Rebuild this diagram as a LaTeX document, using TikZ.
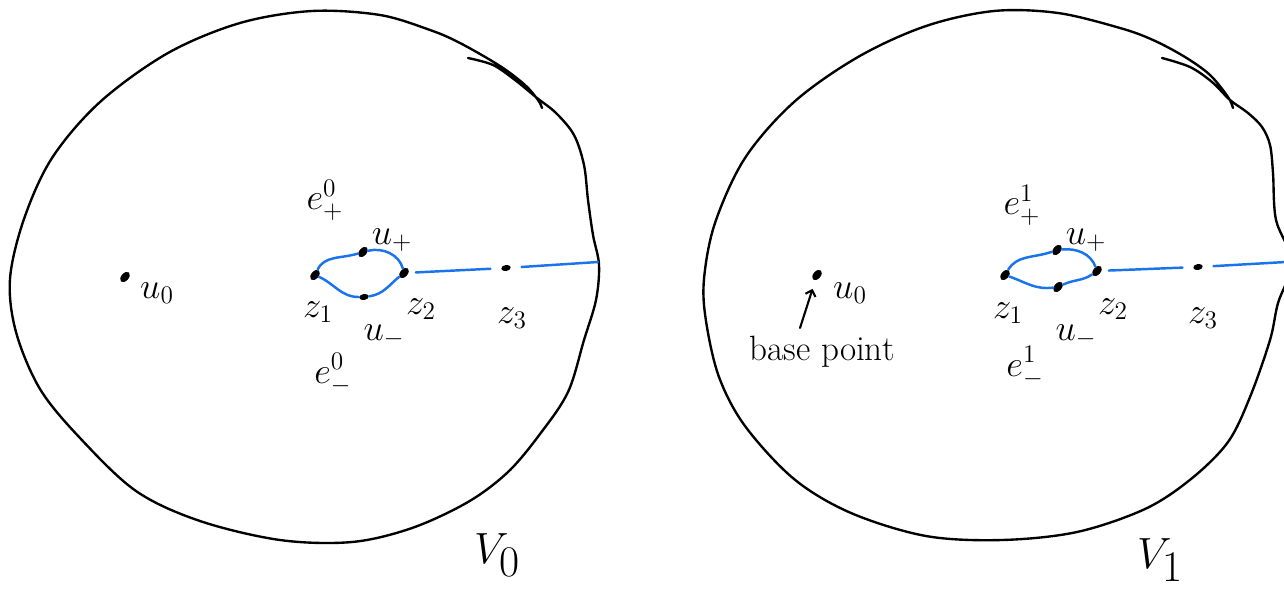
\documentclass[tikz,border=0pt]{standalone}
\usetikzlibrary{shapes.geometric,arrows.meta}
\definecolor{bluepen}{RGB}{25,115,235}
\begin{document}
\begin{tikzpicture}[x=0.02cm,y=-0.02cm,
  outline/.style={line width=1.35pt, line cap=round, line join=round},
  bl/.style={draw=bluepen, line width=1.4pt, line cap=round},
  dot/.style={ellipse, fill=black, inner sep=0, minimum width=0.24cm, minimum height=0.15cm, rotate=50},
  smalldot/.style={ellipse, fill=black, inner sep=0, minimum width=0.19cm, minimum height=0.12cm, rotate=10},
  lbl/.style={font=\fontsize{20}{24}\selectfont, inner sep=0},
  big/.style={font=\fontsize{42}{46}\selectfont, inner sep=0}]
\useasboundingbox (0,0) rectangle (1284,592);
\begin{scope}
\clip (0,0) rectangle (1284,592);
% ---------- left disc V0
\draw[outline] plot[smooth, tension=0.55] coordinates {
 (468,58) (493,65) (515,80) (537,98) (556,113) (574,135) (584,165) (588,200)
 (593,235) (599,265) (596,300) (584,340) (568,392) (540,434) (508,472) (468,502)
 (412,528) (352,542) (280,540) (200,521) (136,491) (80,438) (40,389) (16,332)
 (10,279) (24,219) (52,158) (100,102) (168,53) (240,23) (312,11) (380,15)
 (430,30) (460,43) (500,66) (525,85) (538,100) (542,108)};
% ---------- right disc V1
\draw[outline] plot[smooth, tension=0.55] coordinates {
 (1162,58) (1190,67) (1212,82) (1230,100) (1248,113) (1262,127) (1270,145) (1273,173)
 (1276,220) (1292,262) (1278,303) (1270,340) (1250,397) (1228,442) (1191,479) (1145,509)
 (1077,532) (1002,540) (926,536) (851,513) (794,479) (745,426) (719,377) (706,321)
 (704,279) (715,223) (745,158) (794,102) (858,57) (926,26) (994,11) (1058,13)
 (1120,28) (1153,40) (1185,57) (1210,75) (1228,97) (1233,108)};
\end{scope}

% ---------- left contents
\node[dot] (lu0) at (125,277) {};
\node[lbl] (lu0t) at (157,293) {$u_0$};
\node[lbl] (lep) at (325,200) {$e^0_+$};
\node[dot] (lz1) at (315,275) {};
\node[dot] (lup) at (363,252) {};
\node[dot] (lz2) at (404,273) {};
\node[smalldot] (lum) at (364,297) {};
\node[smalldot] (lz3) at (506,268) {};
\coordinate (ledge) at (598,262);
\node[lbl] (lz1t) at (318,312) {$z_1$};
\node[lbl] (lupt) at (392,240) {$u_+$};
\node[lbl] (lz2t) at (421,309) {$z_2$};
\node[lbl] (lumt) at (384,336) {$u_-$};
\node[lbl] (lz3t) at (512,318) {$z_3$};
\node[lbl] (lem) at (333,374) {$e^0_-$};
\node[big] (V0) at (497,555) {$V_0$};

\draw[bl] (lz1) to[out=55,in=185] (lup);
\draw[bl] (lup) to[out=0,in=95] (lz2);
\draw[bl] (lz1) to[out=-35,in=178] (lum);
\draw[bl] (lum) to[out=5,in=-155] (lz2);
\draw[bl, shorten <=4pt, shorten >=6pt] (lz2) -- (lz3);
\draw[bl, shorten <=6pt] (lz3) -- (ledge);

% ---------- right contents
\node[dot] (ru0) at (817,275) {};
\node[lbl] (ru0t) at (850,293) {$u_0$};
\coordinate (rarrow) at (800,328);
\node[lbl] (bp) at (822,352) {base point};
\draw[line width=1.2pt, line cap=round, -{Straight Barb[length=3pt]}, shorten >=5pt] (rarrow) -- (ru0);
\node[lbl] (rep) at (1022,205) {$e^1_+$};
\node[dot] (rz1) at (1005,275) {};
\node[dot] (rup) at (1057,250) {};
\node[dot] (rum) at (1058,287) {};
\node[dot] (rz2) at (1097,271) {};
\node[smalldot] (rz3) at (1198,267) {};
\coordinate (redge) at (1286,262);
\node[lbl] (rz1t) at (1008,313) {$z_1$};
\node[lbl] (rupt) at (1086,240) {$u_+$};
\node[lbl] (rz2t) at (1113,309) {$z_2$};
\node[lbl] (rumt) at (1076,336) {$u_-$};
\node[lbl] (rz3t) at (1203,318) {$z_3$};
\node[lbl] (rem) at (1025,367) {$e^1_-$};
\node[big] (V1) at (1160,560) {$V_1$};

\draw[bl] (rz1) to[out=50,in=188] (rup);
\draw[bl] (rup) to[out=-8,in=100] (rz2);
\draw[bl] (rz1) to[out=-30,in=175] (rum);
\draw[bl] (rum) to[out=10,in=-160] (rz2);
\draw[bl, shorten <=4pt, shorten >=6pt] (rz2) -- (rz3);
\draw[bl, shorten <=6pt] (rz3) -- (redge);
\end{tikzpicture}
\end{document}
